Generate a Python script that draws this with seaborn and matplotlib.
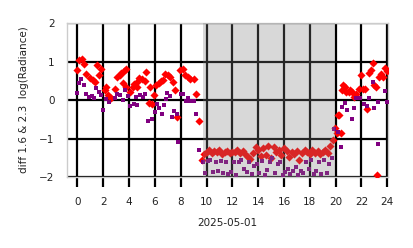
import numpy as np
import pandas as pd
import matplotlib
matplotlib.use("Agg")
import matplotlib.pyplot as plt
import seaborn as sns

# ---- data (hours of 2025-05-01, log radiance difference) ----
red_hours = [0.0, 0.1, 0.35, 0.55, 0.7, 0.95, 1.2, 1.4, 1.5, 1.7, 1.85, 2.1, 2.2, 2.4, 2.6, 2.9,
             3.1, 3.3, 3.4, 3.5, 3.6, 3.75, 3.8, 4.1, 4.3, 4.4, 4.6, 4.65, 4.8, 5.0, 5.2, 5.35,
             5.55, 5.6, 5.75, 5.95, 6.1, 6.3, 6.5, 6.6, 6.8, 7.0, 7.2, 7.4, 7.55, 7.7, 7.95, 8.15,
             8.35, 8.55, 8.75, 9.0, 9.2, 9.45,
             9.65, 9.8, 10.0, 10.2, 10.4, 10.6, 10.8, 11.0, 11.2, 11.4, 11.6, 11.8, 12.0, 12.2,
             12.4, 12.6, 12.8, 13.0, 13.2, 13.4, 13.6, 13.8, 14.0, 14.2, 14.4, 14.6, 14.8, 15.0,
             15.2, 15.4, 15.6, 15.8, 16.0, 16.2, 16.4, 16.6, 16.8, 17.0, 17.2, 17.4, 17.6, 17.8,
             18.0, 18.2, 18.4, 18.6, 18.8, 19.0, 19.2, 19.4, 19.6, 19.8,
             19.95, 20.1, 20.2, 20.3, 20.4, 20.5, 20.6, 20.7, 20.8, 21.0, 21.1, 21.3, 21.45, 21.6,
             21.8, 22.0, 22.1, 22.3, 22.45, 22.6, 22.75, 22.9, 23.0, 23.1, 23.2, 23.35, 23.5,
             23.65, 23.8, 23.95]
red_values = [0.78, 1.04, 1.06, 0.93, 0.68, 0.57, 0.52, 0.47, 0.9, 0.65, 0.8, 0.25, 0.33, 0.12, 0.05, 0.3,
              0.6, 0.65, 0.7, 0.45, 0.75, 0.8, 0.35, 0.2, 0.33, 0.42, 0.47, 0.35, 0.58, 0.55, 0.5, 0.72,
              -0.08, 0.35, -0.1, 0.13, 0.38, 0.45, 0.5, 0.52, 0.68, 0.65, 0.6, 0.48, 0.25, -0.45, 0.78, 0.8,
              0.65, 0.6, 0.55, 0.55, 0.15, -0.55,
              -1.55, -1.4, -1.35, -1.3, -1.38, -1.33, -1.36, -1.3, -1.4, -1.35, -1.32, -1.38, -1.34, -1.36,
              -1.3, -1.37, -1.33, -1.4, -1.48, -1.52, -1.38, -1.22, -1.3, -1.45, -1.25, -1.42, -1.2, -1.5,
              -1.22, -1.35, -1.3, -1.42, -1.25, -1.32, -1.48, -1.36, -1.4, -1.33, -1.55, -1.38, -1.3, -1.35,
              -1.4, -1.3, -1.37, -1.33, -1.4, -1.35, -1.3, -1.38, -1.2, -1.05,
              -0.72, -0.85, -0.4, -0.38, -0.85, 0.26, 0.39, 0.33, 0.2, 0.2, 0.26, 0.2, 0.08, 0.15,
              0.3, 0.65, 0.3, 0.3, -0.22, 0.7, 0.78, 0.97, 0.4, 0.34, -1.95, 0.6, 0.68,
              0.6, 0.83, 0.75]

purple_hours = [0.0, 0.15, 0.3, 0.55, 0.7, 0.9, 1.1, 1.3, 1.45, 1.7, 1.85, 2.0, 2.2, 2.45, 2.9, 3.05,
                3.3, 3.55, 3.7, 3.95, 4.1, 4.4, 4.55, 4.65, 4.85, 5.05, 5.25, 5.5, 5.8, 6.0, 6.2, 6.35,
                6.55, 6.7, 6.85, 6.95, 7.2, 7.35, 7.5, 7.7, 7.8, 8.0, 8.2, 8.4, 8.55, 8.75, 9.0, 9.15, 9.4,
                9.7, 9.9, 10.1, 10.3, 10.5, 10.7, 10.9, 11.1, 11.3, 11.5, 11.7, 11.9, 12.1, 12.3, 12.5,
                12.7, 12.9, 13.1, 13.3, 13.5, 13.7, 13.9, 14.1, 14.3, 14.5, 14.7, 14.9, 15.1, 15.3,
                15.5, 15.7, 15.9, 16.1, 16.3, 16.5, 16.7, 16.9, 17.1, 17.3, 17.5, 17.7, 17.9, 18.1,
                18.3, 18.5, 18.7, 18.9, 19.1, 19.3, 19.5, 19.7,
                19.9, 20.15, 20.45, 20.5, 20.75, 20.85, 21.3, 21.45, 21.6, 21.85, 22.2, 22.4, 22.6,
                22.9, 22.95, 23.25, 23.3, 23.8, 23.95]
purple_values = [0.18, 0.45, 0.55, 0.4, 0.16, 0.08, 0.1, 0.05, 0.32, 0.2, 0.12, -0.27, 0.04, -0.05, 0.05, 0.17,
                 0.12, 0.0, 0.25, 0.1, -0.16, -0.1, 0.07, -0.13, 0.12, 0.08, 0.15, -0.55, -0.48, -0.3, -0.1, -0.2,
                 -0.35, -0.12, 0.02, 0.18, 0.1, -0.43, -0.28, -0.35, -1.1, 0.15, 0.15, -0.03, 0.05, -0.02, -0.02, -0.35, -1.3,
                 -1.6, -1.9, -1.58, -1.55, -1.88, -1.6, -1.85, -1.58, -1.9, -1.6, -1.92, -1.87, -1.6, -1.95, -1.62,
                 -1.55, -1.8, -1.88, -1.6, -1.93, -1.72, -1.65, -1.9, -1.58, -1.95, -1.82, -1.6, -1.5, -1.9,
                 -1.65, -1.6, -1.95, -1.88, -1.8, -1.92, -1.85, -1.75, -1.95, -1.85, -1.9, -1.6, -1.8, -1.55,
                 -1.93, -1.85, -1.6, -1.92, -1.55, -1.9, -1.65, -1.5,
                 -0.75, -0.83, -1.22, -0.18, -0.08, -0.25, -0.5, -0.2, 0.05, 0.05, -0.1, -0.15, 0.05,
                 0.47, -0.2, -1.15, -0.05, 0.24, -0.05]

night_start, night_end = 9.7, 19.95
x_ticks = [0, 2, 4, 6, 8, 10, 12, 14, 16, 18, 20, 22, 24]
y_ticks = [-2, -1, 0, 1, 2]

red_df = pd.DataFrame({"hour": red_hours, "value": red_values})
purple_df = pd.DataFrame({"hour": purple_hours, "value": purple_values})

sns.set_theme(style="whitegrid", rc={"xtick.bottom": True, "xtick.major.size": 7,
                                     "xtick.major.width": 1.6, "xtick.color": "black",
                                     "xtick.direction": "out"})
plt.rcParams["font.family"] = ["DejaVu Sans"]

fig = plt.figure(figsize=(4.14, 2.48), dpi=100)
ax = fig.add_axes([0.162, 0.286, 0.775, 0.621])

sns.scatterplot(data=red_df, x="hour", y="value", ax=ax, color="#ff0000", marker="D",
                s=17, linewidth=0, zorder=3)
sns.scatterplot(data=purple_df, x="hour", y="value", ax=ax, color="#800080", marker="s",
                s=9, linewidth=0, zorder=3)

ax.axvspan(night_start, night_end, color="gray", alpha=0.3, zorder=4, linewidth=0)

ax.set_xlim(-0.8, 24.05)
ax.set_ylim(-2.0, 2.0)
ax.set_xticks(x_ticks)
ax.set_yticks(y_ticks)
ax.grid(True, color="black", linewidth=1.6)
ax.set_axisbelow(True)
for sp in ax.spines.values():
    sp.set_color("#cccccc")
    sp.set_linewidth(1.0)

ax.tick_params(axis="x", which="major", bottom=True, direction="out", length=7, width=1.6,
               color="black", labelsize=7.5, pad=7)
ax.tick_params(axis="y", which="major", left=False, length=0, labelsize=7.5, pad=9)
for lab in ax.get_xticklabels() + ax.get_yticklabels():
    lab.set_color("#222222")

ax.set_xlabel("2025-05-01", fontsize=7.5, color="#222222", labelpad=8)
ax.set_ylabel("diff 1.6 & 2.3  log(Radiance)", fontsize=7.5, color="#222222", labelpad=7)

fig.savefig("out.png", dpi=100)
